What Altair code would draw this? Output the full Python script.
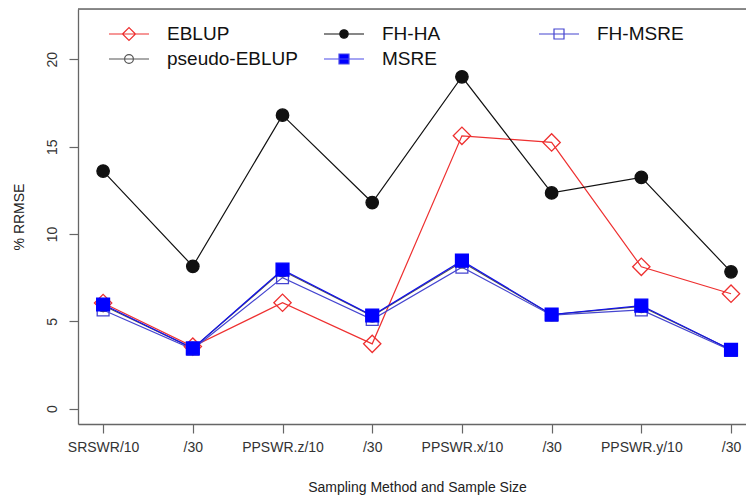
import altair as alt
import pandas as pd

# ---- data ----
x_labels = ["SRSWR/10", "/30", "PPSWR.z/10", "/30", "PPSWR.x/10", "/30", "PPSWR.y/10", "/30"]
x_pos = [1, 2, 3, 4, 5, 6, 7, 8]

eblup = [6.05, 3.55, 6.06, 3.71, 15.62, 15.24, 8.12, 6.58]
pseudo_eblup = [5.9, 3.45, 7.9, 5.3, 8.4, 5.38, 5.85, 3.37]
fh_ha = [13.6, 8.15, 16.8, 11.8, 19.0, 12.35, 13.24, 7.83]
fh_msre = [5.65, 3.4, 7.5, 5.1, 8.1, 5.35, 5.65, 3.33]
msre = [5.96, 3.45, 7.96, 5.33, 8.47, 5.39, 5.9, 3.37]

series_order = ["EBLUP", "pseudo-EBLUP", "FH-HA", "FH-MSRE", "MSRE"]
series_values = {
    "EBLUP": eblup,
    "pseudo-EBLUP": pseudo_eblup,
    "FH-HA": fh_ha,
    "FH-MSRE": fh_msre,
    "MSRE": msre,
}

# styles per series
line_color = {"EBLUP": "#ee3030", "pseudo-EBLUP": "#555555", "FH-HA": "#111111",
              "FH-MSRE": "#4545d0", "MSRE": "#1010ee"}
fill_color = {"EBLUP": "transparent", "pseudo-EBLUP": "transparent", "FH-HA": "#111111",
              "FH-MSRE": "transparent", "MSRE": "#0000ff"}
marker = {"EBLUP": "diamond", "pseudo-EBLUP": "circle", "FH-HA": "circle",
          "FH-MSRE": "square", "MSRE": "square"}
marker_size = {"EBLUP": 300, "pseudo-EBLUP": 150, "FH-HA": 155, "FH-MSRE": 140, "MSRE": 165}

# legend order (filled column by column, 3 columns)
legend_domain = ["EBLUP", "pseudo-EBLUP", "FH-HA", "MSRE", "FH-MSRE"]
# legend symbol paths: unit = 10 px (symbolSize 400); line spans 40 px
legend_paths = {
    "EBLUP": "M-2,0L2,0M-0.65,0L0,-0.65L0.65,0L0,0.65Z",
    "pseudo-EBLUP": "M-2,0L2,0M-0.44,0A0.44,0.44,0,1,1,0.44,0A0.44,0.44,0,1,1,-0.44,0Z",
    "FH-HA": "M-2,0L2,0M-0.42,0A0.42,0.42,0,1,1,0.42,0A0.42,0.42,0,1,1,-0.42,0Z",
    "MSRE": "M-2,0L2,0M-0.5,-0.5L0.5,-0.5L0.5,0.5L-0.5,0.5Z",
    "FH-MSRE": "M-2,0L2,0M-0.5,-0.5L0.5,-0.5L0.5,0.5L-0.5,0.5Z",
}
legend_stroke = {"EBLUP": "#ee3030", "pseudo-EBLUP": "#555555", "FH-HA": "#111111",
                 "FH-MSRE": "#4545d0", "MSRE": "#4a4ae8"}

rows = []
for s in series_order:
    for xi, v in zip(x_pos, series_values[s]):
        rows.append({"series": s, "x": xi, "value": v})
df = pd.DataFrame(rows)

label_expr = "[" + ",".join(f"'{l}'" for l in x_labels) + "][datum.value - 1]"

x_enc = alt.X(
    "x:Q",
    scale=alt.Scale(domain=[0.72, 8.167], nice=False, zero=False),
    axis=alt.Axis(
        values=x_pos,
        labelExpr=label_expr,
        title="Sampling Method and Sample Size",
        tickSize=9,
        labelPadding=7,
        labelFontSize=14,
        labelColor="#333333",
        labelFlush=False,
        labelOverlap=False,
        domainColor="#666666",
        tickColor="#666666",
        domainWidth=1.3,
        tickWidth=1.2,
        grid=False,
        titleFontSize=14,
        titleFontWeight="normal",
        titleColor="#222222",
        titleX=339,
        titleY=67,
        titleBaseline="alphabetic",
        titleAlign="center",
    ),
)
y_enc = alt.Y(
    "value:Q",
    scale=alt.Scale(domain=[-0.88, 22.88], nice=False, zero=False),
    axis=alt.Axis(
        values=[0, 5, 10, 15, 20],
        title="% RRMSE",
        labelAngle=270,
        labelAlign="center",
        labelBaseline="alphabetic",
        tickSize=9,
        labelPadding=13,
        labelFontSize=14,
        labelColor="#333333",
        domainColor="#666666",
        tickColor="#666666",
        domainWidth=1.3,
        tickWidth=1.2,
        grid=False,
        titleFontSize=14,
        titleFontWeight="normal",
        titleColor="#222222",
        titleAngle=270,
        titleX=-55,
        titleY=207.5,
        titleBaseline="alphabetic",
        titleAlign="center",
    ),
)

base = alt.Chart(df)

line_layers = []
point_layers = []
for s in series_order:
    sub = base.transform_filter(alt.datum.series == s)
    line_layers.append(
        sub.mark_line(strokeWidth=1.2, color=line_color[s]).encode(x=x_enc, y=y_enc)
    )
    point_layers.append(
        sub.mark_point(
            opacity=1,
            strokeWidth=1.3,
            size=marker_size[s],
            shape=marker[s],
            stroke=line_color[s] if s != "MSRE" else "#0000ff",
            fill=fill_color[s],
        ).encode(x=x_enc, y=y_enc)
    )

leg = alt.Legend(
    title=None,
    orient="none",
    legendX=40,
    legendY=14,
    columns=3,
    gridAlign="all",
    columnPadding=23,
    rowPadding=4,
    symbolSize=400,
    symbolStrokeWidth=1.2,
    labelFontSize=19,
    labelColor="#111111",
    labelOffset=27,
    labelLimit=400,
    padding=0,
)

# invisible (size 0) layer that only carries the legend
legend_layer = base.mark_point(opacity=1, size=0, strokeWidth=1.2).encode(
    x=x_enc,
    y=y_enc,
    stroke=alt.Stroke("series:N", scale=alt.Scale(domain=legend_domain,
                      range=[legend_stroke[s] for s in legend_domain]), legend=leg),
    fill=alt.Fill("series:N", scale=alt.Scale(domain=legend_domain,
                  range=[fill_color[s] for s in legend_domain]), legend=leg),
    shape=alt.Shape("series:N", scale=alt.Scale(domain=legend_domain,
                    range=[legend_paths[s] for s in legend_domain]), legend=leg),
)

top_border = alt.Chart(pd.DataFrame({"a": [0]})).mark_rule(
    color="#666666", strokeWidth=1.3
).encode(x=alt.value(0), x2=alt.value(668), y=alt.value(0))

chart = alt.layer(*line_layers, *point_layers, legend_layer, top_border).properties(
    width=668,
    height=415,
    padding={"left": 78, "top": 9, "right": 0, "bottom": 71},
    autosize="none",
).configure_view(stroke=None).configure(font="Liberation Sans", background="white")

chart.save("out.html", embed_options={"renderer": "svg", "actions": False})
